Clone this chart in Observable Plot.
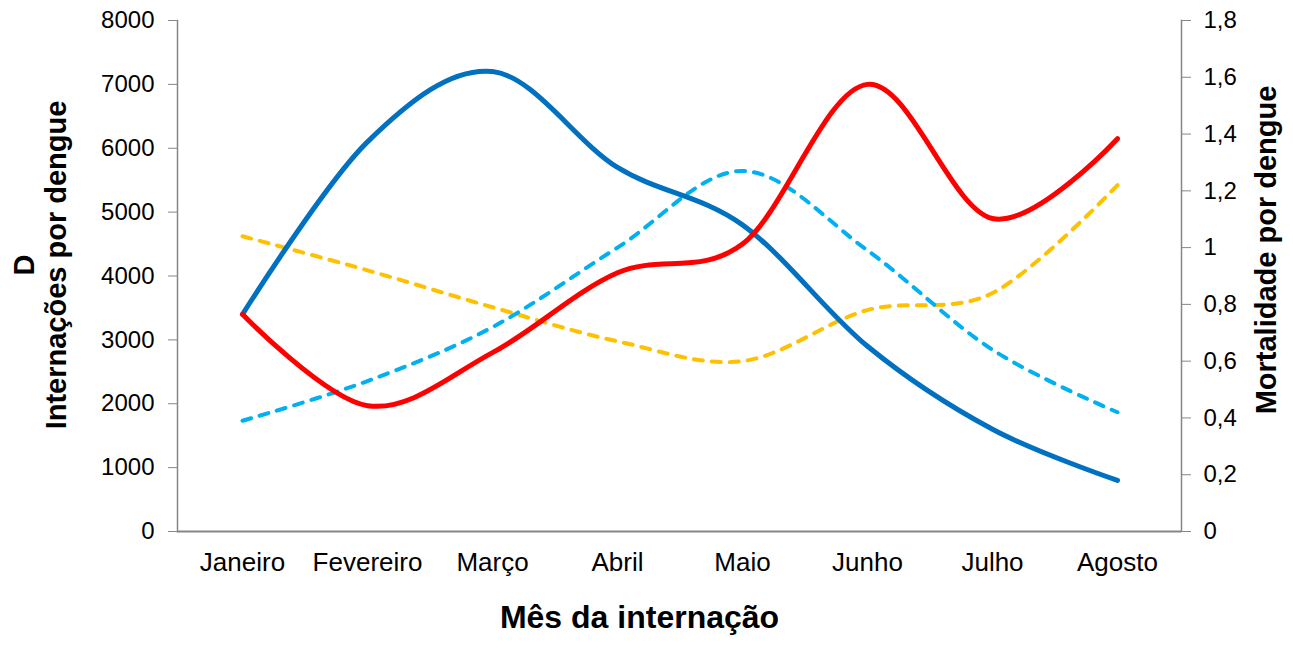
<!DOCTYPE html>
<html>
<head>
<meta charset="utf-8">
<script src="https://cdn.jsdelivr.net/npm/d3@7"></script>
<script src="https://cdn.jsdelivr.net/npm/@observablehq/plot@0.6"></script>
<style>
  html, body { margin: 0; padding: 0; background: #fff; overflow: hidden; }
  #chart svg { display: block; }
</style>
</head>
<body>
<div id="chart"></div>
<script>
// ---- data ----
const months = ["Janeiro", "Fevereiro", "Março", "Abril", "Maio", "Junho", "Julho", "Agosto"];
// solid lines, left axis (Internações por dengue)
const internacoesAzul = [3400, 6100, 7200, 5700, 4800, 2900, 1600, 800];
const internacoesVermelho = [3400, 1970, 2800, 4050, 4500, 7000, 4900, 6150];
// dashed lines, right axis (Mortalidade por dengue)
const mortalidadeAzulClaro = [0.39, 0.53, 0.72, 1.0, 1.27, 0.99, 0.64, 0.42];
const mortalidadeLaranja = [1.04, 0.92, 0.79, 0.67, 0.60, 0.78, 0.84, 1.22];
// axis ticks
const leftTicks = [0, 1000, 2000, 3000, 4000, 5000, 6000, 7000, 8000];
const rightTicks = [0, 0.2, 0.4, 0.6, 0.8, 1.0, 1.2, 1.4, 1.6, 1.8];
const leftMax = 8000, rightMax = 1.8;

// ---- build ----
const k = leftMax / rightMax; // map right-axis values into left scale units
const rows = (vals, s, scale) => vals.map((v, i) => ({month: months[i], v: v * scale, s}));
const azul = rows(internacoesAzul, "azul", 1);
const vermelho = rows(internacoesVermelho, "vermelho", 1);
const azulClaro = rows(mortalidadeAzulClaro, "azulClaro", k);
const laranja = rows(mortalidadeLaranja, "laranja", k);

const font = "'Liberation Sans', Arial, Helvetica, sans-serif";
const axisGray = "#868686";
const fmtLeft = d => String(Math.round(d));
const fmtRight = d => String(parseFloat((d / k).toFixed(1))).replace(".", ",");

const chart = Plot.plot({
  width: 1293,
  height: 649,
  marginLeft: 177,
  marginRight: 112,
  marginTop: 20,
  marginBottom: 118,
  style: {fontFamily: font, background: "#fff", color: "#000"},
  x: {type: "point", domain: months, padding: 0.5, label: null},
  y: {domain: [0, leftMax], label: null},
  marks: [
    Plot.frame({anchor: "left", stroke: axisGray, strokeWidth: 1.5}),
    Plot.frame({anchor: "right", stroke: axisGray, strokeWidth: 1.5}),
    Plot.ruleY([0], {stroke: axisGray, strokeWidth: 2}),
    Plot.axisY(leftTicks, {anchor: "left", tickSize: 9, tickPadding: 14, fontSize: 24, stroke: axisGray, fill: "#000", tickFormat: fmtLeft, label: null}),
    Plot.axisY(rightTicks.map(t => t * k), {anchor: "right", tickSize: 9, tickPadding: 13, fontSize: 24, stroke: axisGray, fill: "#000", tickFormat: fmtRight, label: null}),
    Plot.axisX({anchor: "bottom", tickSize: 0, tickPadding: 21.5, fontSize: 26, fill: "#000", label: null}),
    Plot.line(laranja, {x: "month", y: "v", stroke: "#FFC000", strokeWidth: 4, strokeDasharray: "9,9", strokeLinecap: "round", curve: "cardinal", tension: 0}),
    Plot.line(azulClaro, {x: "month", y: "v", stroke: "#00B0F0", strokeWidth: 4, strokeDasharray: "9,9", strokeLinecap: "round", curve: "cardinal", tension: 0}),
    Plot.line(azul, {x: "month", y: "v", stroke: "#0070C0", strokeWidth: 5, strokeLinecap: "round", curve: "cardinal", tension: 0}),
    Plot.line(vermelho, {x: "month", y: "v", stroke: "#FF0000", strokeWidth: 5, strokeLinecap: "round", curve: "cardinal", tension: 0}),
    Plot.text(["D"], {frameAnchor: "left", textAnchor: "middle", rotate: -90, dx: -153, dy: -11, fontSize: 29, fontWeight: "bold", fill: "#000"}),
    Plot.text(["Internações por dengue"], {frameAnchor: "left", textAnchor: "middle", rotate: -90, dx: -121, dy: -11, fontSize: 29, fontWeight: "bold", fill: "#000"}),
    Plot.text(["Mortalidade por dengue"], {frameAnchor: "right", textAnchor: "middle", rotate: -90, dx: 85, dy: -26, fontSize: 29, fontWeight: "bold", fill: "#000"}),
    Plot.text(["Mês da internação"], {frameAnchor: "bottom", textAnchor: "middle", dx: -40, dy: 96, fontSize: 32, fontWeight: "bold", fill: "#000"})
  ]
});
document.getElementById("chart").appendChild(chart);
</script>
</body>
</html>
